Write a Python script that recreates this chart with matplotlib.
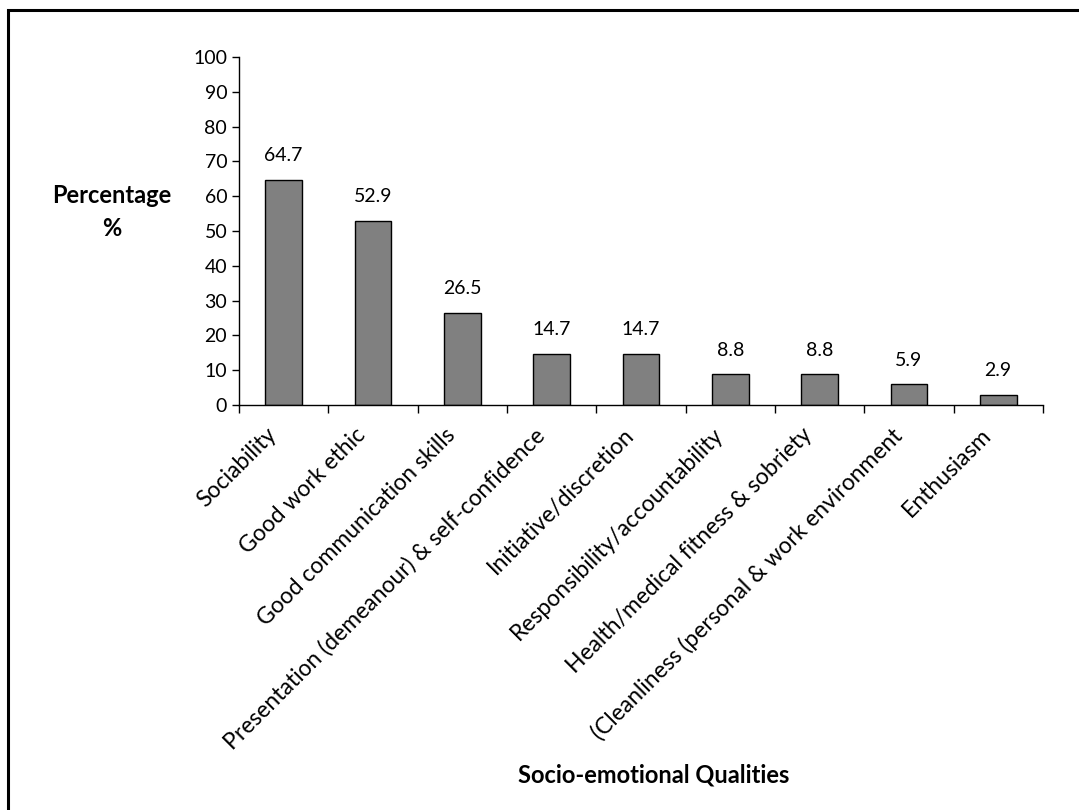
import matplotlib.pyplot as plt
from matplotlib.patches import Rectangle

categories = [
    "Sociability",
    "Good work ethic",
    "Good communication skills",
    "Presentation (demeanour) & self-confidence",
    "Initiative/discretion",
    "Responsibility/accountability",
    "Health/medical fitness & sobriety",
    "(Cleanliness (personal & work environment",
    "Enthusiasm",
]
percentages = [64.7, 52.9, 26.5, 14.7, 14.7, 8.8, 8.8, 5.9, 2.9]
y_ticks = list(range(0, 101, 10))

plt.rcParams["font.family"] = ["Lato", "DejaVu Sans"]

fig = plt.figure(figsize=(10.79, 8.10), dpi=100)
ax = fig.add_axes([0.2215, 0.5, 0.745, 0.4296])

x = list(range(len(categories)))
ax.bar(x, percentages, width=0.41, color="#808080", edgecolor="black", linewidth=1.0, zorder=2)

for xi, v in zip(x, percentages):
    ax.text(xi, v + 4.5, f"{v:.1f}", ha="center", va="bottom", fontsize=14)

ax.set_xlim(-0.5, len(categories) - 0.5)
ax.set_ylim(0, 100)
ax.set_yticks(y_ticks)
ax.tick_params(axis="y", labelsize=14, direction="out", length=5, width=1)

# category ticks sit between the bars
ax.set_xticks([i - 0.5 for i in range(len(categories) + 1)])
ax.set_xticklabels([])
ax.tick_params(axis="x", direction="out", length=6, width=1)
trans = ax.get_xaxis_transform()
for xi, name in zip(x, categories):
    ax.text(xi - 0.2, -0.055, name, rotation=45, ha="right", va="top",
            rotation_mode="anchor", fontsize=16.5, transform=trans)

for side in ("top", "right"):
    ax.spines[side].set_visible(False)
for side in ("left", "bottom"):
    ax.spines[side].set_linewidth(1)

fig.text(112 / 1079, 1 - 212 / 810, "Percentage\n%", ha="center", va="center",
         fontsize=17, fontweight="bold", linespacing=1.5)
fig.text(654 / 1079, 1 - 775 / 810, "Socio-emotional Qualities", ha="center", va="center",
         fontsize=17, fontweight="bold")

# outer frame
fig.patches.append(Rectangle((8 / 1079, -0.1), 1.2, 1 - 10 / 810 + 0.1,
                             transform=fig.transFigure, fill=False,
                             edgecolor="black", linewidth=2.2))

fig.savefig("out.png", dpi=100)
